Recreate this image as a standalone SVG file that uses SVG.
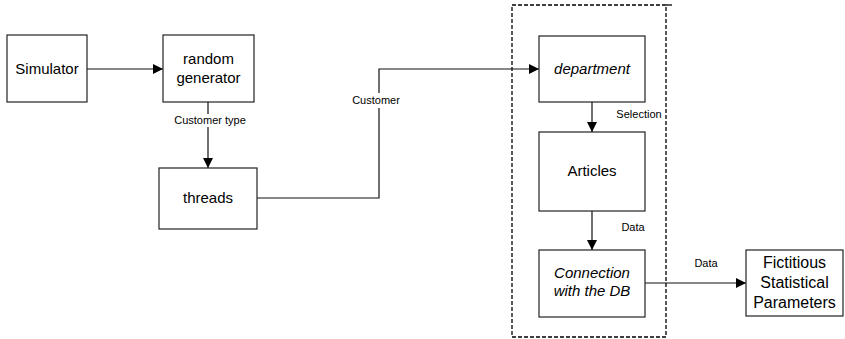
<svg xmlns="http://www.w3.org/2000/svg" width="845" height="339" viewBox="0 0 845 339">
<style>
.box{fill:#fff;stroke:#222;stroke-width:1.2}
.t{font-family:"Liberation Sans",Arial,sans-serif;font-size:15px;fill:#000;text-anchor:middle}
.i{font-style:italic}
.l{font-family:"Liberation Sans",Arial,sans-serif;font-size:11px;fill:#000;text-anchor:middle}
.c{fill:none;stroke:#111;stroke-width:1.2}
</style>
<defs>
<marker id="ah" viewBox="0 0 10 10" refX="10" refY="5" markerWidth="10" markerHeight="10" markerUnits="userSpaceOnUse" orient="auto">
<path d="M0,0 L10,5 L0,10 z" fill="#000"/>
</marker>
</defs>
<rect width="845" height="339" fill="#fff"/>
<g id="container">
<rect x="512" y="5" width="154" height="332" fill="none" stroke="#000" stroke-width="1.3" stroke-dasharray="4,2"/>
<line x1="666" y1="5" x2="672" y2="5" stroke="#000" stroke-width="1.3"/>
</g>
<g id="connectors">
<line class="c" x1="87" y1="69" x2="163" y2="69" marker-end="url(#ah)"/>
<line class="c" x1="208" y1="102" x2="208" y2="114"/>
<line class="c" x1="208" y1="127" x2="208" y2="168" marker-end="url(#ah)"/>
<polyline class="c" points="257,198 379,198 379,108"/>
<polyline class="c" points="379,93 379,69 539,69" marker-end="url(#ah)"/>
<line class="c" x1="592" y1="102" x2="592" y2="132" marker-end="url(#ah)"/>
<line class="c" x1="592" y1="211" x2="592" y2="250" marker-end="url(#ah)"/>
<line class="c" x1="645" y1="283" x2="746" y2="283" marker-end="url(#ah)"/>
<text class="l" x="210" y="124">Customer type</text>
<text class="l" x="376" y="104">Customer</text>
<text class="l" x="639" y="118">Selection</text>
<text class="l" x="633" y="231">Data</text>
<text class="l" x="706" y="267">Data</text>
</g>
<g id="simulator">
<rect class="box" x="7" y="35" width="80" height="67"/>
<text class="t" x="47" y="74">Simulator</text>
</g>
<g id="random-generator">
<rect class="box" x="163" y="35" width="91" height="67"/>
<text class="t" x="208.5" y="64">random</text>
<text class="t" x="208.5" y="83">generator</text>
</g>
<g id="threads">
<rect class="box" x="159" y="168" width="98" height="61"/>
<text class="t" x="208" y="203">threads</text>
</g>
<g id="department">
<rect class="box" x="539" y="36" width="106" height="66"/>
<text class="t i" x="592" y="74">department</text>
</g>
<g id="articles">
<rect class="box" x="539" y="132" width="106" height="79"/>
<text class="t" x="592" y="176">Articles</text>
</g>
<g id="connection-db">
<rect class="box" x="539" y="250" width="106" height="67"/>
<text class="t i" x="592" y="278">Connection</text>
<text class="t i" x="592" y="296">with the DB</text>
</g>
<g id="fictitious">
<rect class="box" x="746" y="250" width="97" height="66"/>
<text class="t" x="794.5" y="268" style="font-size:16px">Fictitious</text>
<text class="t" x="794.5" y="288" style="font-size:16px">Statistical</text>
<text class="t" x="794.5" y="308" style="font-size:16px">Parameters</text>
</g>
</svg>
